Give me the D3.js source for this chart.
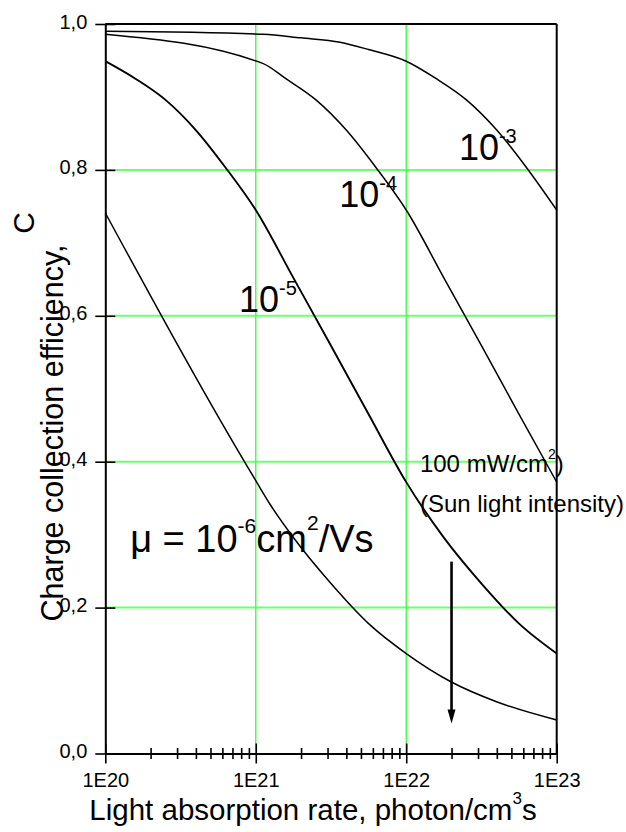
<!DOCTYPE html>
<html>
<head>
<meta charset="utf-8">
<title>Charge collection efficiency vs light absorption rate</title>
<style>
  body { margin: 0; background: #fff; }
  svg { font-family: "Liberation Sans", Arial, sans-serif; }
</style>
<script src="https://d3js.org/d3.v7.min.js"></script>
</head>
<body>
<svg id="chart" width="626" height="832"></svg>
<script>
// x values are exponents: rate = 10^exp photon/cm3 s
var mu3Exp = [20, 21.05, 21.3, 21.56, 21.75, 22.0, 22.2, 22.4, 22.6, 22.8, 23];
var mu3Eff = [0.990, 0.986, 0.981, 0.975, 0.965, 0.949, 0.925, 0.896, 0.855, 0.803, 0.745];

var mu4Exp = [20, 21.046, 21.2, 21.4, 21.6, 21.8, 22.0, 22.25, 22.5, 22.75, 23];
var mu4Eff = [0.986, 0.946, 0.925, 0.896, 0.855, 0.803, 0.745, 0.652, 0.559, 0.465, 0.372];

var mu5Exp = [20, 20.2, 20.4, 20.6, 20.8, 21.0, 21.25, 21.5, 21.75, 22.0, 22.25, 22.5, 22.75, 23];
var mu5Eff = [0.949, 0.925, 0.896, 0.855, 0.803, 0.745, 0.652, 0.559, 0.465, 0.372, 0.296, 0.233, 0.178, 0.137];

var mu6Exp = [20, 21.0, 21.1, 21.25, 21.5, 21.75, 22.0, 22.3, 22.6, 23];
var mu6Eff = [0.741, 0.374, 0.340, 0.296, 0.233, 0.178, 0.137, 0.098, 0.071, 0.046];

var xMajor = [1e20, 1e21, 1e22, 1e23];
var xTickLabels = ['1E20', '1E21', '1E22', '1E23'];
var yTicks = [0, 0.2, 0.4, 0.6, 0.8, 1.0];
var yTickLabels = ['0,0', '0,2', '0,4', '0,6', '0,8', '1,0'];

var svg = d3.select('#chart');
var x = d3.scaleLog().domain([1e20, 1e23]).range([105.3, 556.7]);
var y = d3.scaleLinear().domain([0, 1]).range([753.5, 24]);

// minor ticks 2..9 in each decade
var xMinor = [];
for (var e = 20; e < 23; e++) {
  for (var k = 2; k <= 9; k++) xMinor.push(k * Math.pow(10, e));
}

// green grid
svg.append('g')
  .selectAll('line')
  .data(yTicks.slice(1, 5))
  .join('line')
  .attr('x1', x(1e20)).attr('x2', x(1e23))
  .attr('y1', d => y(d)).attr('y2', d => y(d))
  .attr('stroke', '#70ff70').attr('stroke-width', 2);

svg.append('g')
  .selectAll('line')
  .data(xMajor.slice(1, 3))
  .join('line')
  .attr('x1', d => x(d)).attr('x2', d => x(d))
  .attr('y1', y(1)).attr('y2', y(0))
  .attr('stroke', '#40ff40').attr('stroke-width', 1.4);

// curves
var line = d3.line()
  .x(d => x(Math.pow(10, d[0])))
  .y(d => y(d[1]))
  .curve(d3.curveMonotoneX);

var series = [
  [mu3Exp, mu3Eff],
  [mu4Exp, mu4Eff],
  [mu5Exp, mu5Eff],
  [mu6Exp, mu6Eff]
];

svg.append('g')
  .selectAll('path')
  .data(series)
  .join('path')
  .attr('d', s => line(d3.zip(s[0], s[1])))
  .attr('fill', 'none')
  .attr('stroke', '#000')
  .attr('stroke-width', (s, i) => i == 2 ? 1.9 : 1.5);

// axes
var xAxis = svg.append('g')
  .attr('transform', `translate(0,${y(0)})`)
  .call(d3.axisBottom(x)
    .tickValues(xMajor.concat(xMinor))
    .tickSizeOuter(0)
    .tickFormat(d => {
      var i = xMajor.indexOf(d);
      return i >= 0 ? xTickLabels[i] : '';
    }));
xAxis.select('.domain').attr('stroke-width', 2);
xAxis.selectAll('.tick line')
  .attr('y1', d => xMajor.indexOf(d) >= 0 ? -10 : -5.5)
  .attr('y2', d => xMajor.indexOf(d) >= 0 ? 10 : 5.5)
  .attr('stroke-width', 1.6);
xAxis.selectAll('.tick text')
  .attr('y', 33).attr('dy', 0)
  .attr('font-size', 20).attr('font-family', null).attr('fill', '#000');

var yAxis = svg.append('g')
  .attr('transform', `translate(${x(1e20)},0)`)
  .call(d3.axisLeft(y)
    .tickValues(yTicks)
    .tickSizeOuter(0)
    .tickFormat((d, i) => yTickLabels[i]));
yAxis.select('.domain').attr('stroke-width', 2);
yAxis.selectAll('.tick line')
  .attr('x1', -10).attr('x2', 10)
  .attr('stroke-width', 1.6);
yAxis.selectAll('.tick text')
  .attr('x', -18).attr('dy', '0.2em')
  .attr('font-size', 20).attr('font-family', null).attr('fill', '#000');

// top and right frame
svg.append('line')
  .attr('x1', x(1e20)).attr('x2', x(1e23))
  .attr('y1', y(1)).attr('y2', y(1))
  .attr('stroke', '#000').attr('stroke-width', 2);
svg.append('line')
  .attr('x1', x(1e23)).attr('x2', x(1e23))
  .attr('y1', y(1)).attr('y2', y(0))
  .attr('stroke', '#000').attr('stroke-width', 2);

// curve labels
function powerLabel(px, py, base, sup, size, supSize, raise) {
  var t = svg.append('text')
    .attr('x', x(px)).attr('y', y(py))
    .attr('font-size', size);
  t.append('tspan').text(base);
  t.append('tspan').attr('font-size', supSize).attr('dy', -raise).text(sup);
  return t;
}
powerLabel(Math.pow(10, 22.35), 0.8136, '10', '-3', 36, 20, 17);
powerLabel(Math.pow(10, 21.555), 0.7496, '10', '-4', 36, 20, 17);
powerLabel(Math.pow(10, 20.889), 0.6056, '10', '-5', 36, 20, 17);

var muText = svg.append('text')
  .attr('x', x(Math.pow(10, 20.165))).attr('y', y(0.2766))
  .attr('font-size', 38);
muText.append('tspan').text('\u03bc = 10');
muText.append('tspan').attr('font-size', 21).attr('dy', -19).text('-6');
muText.append('tspan').attr('dy', 19).text('cm');
muText.append('tspan').attr('font-size', 21).attr('dy', -22).text('2');
muText.append('tspan').attr('dy', 22).text('/Vs');

// sun light annotation
var sun = svg.append('text')
  .attr('x', x(Math.pow(10, 22.091))).attr('y', y(0.386))
  .attr('font-size', 24);
sun.append('tspan').text('100 mW/cm');
sun.append('tspan').attr('font-size', 14).attr('dy', -13).text('2');
sun.append('tspan').attr('dy', 13).text(')');

svg.append('text')
  .attr('x', x(Math.pow(10, 22.091))).attr('y', y(0.3315))
  .attr('font-size', 24)
  .text('(Sun light intensity)');

// arrow at 2E22
var arrowAt = 2e22, arrowFrom = 0.263, arrowTo = 0.041;
svg.append('line')
  .attr('x1', x(arrowAt)).attr('x2', x(arrowAt))
  .attr('y1', y(arrowFrom)).attr('y2', y(arrowTo) - 8)
  .attr('stroke', '#000').attr('stroke-width', 2.6);
svg.append('path')
  .attr('d', `M${x(arrowAt) - 4},${y(arrowTo) - 14} L${x(arrowAt) + 4},${y(arrowTo) - 14} L${x(arrowAt)},${y(arrowTo)} Z`)
  .attr('fill', '#000');

// axis titles
var xt = svg.append('text')
  .attr('x', 313).attr('y', 820)
  .attr('text-anchor', 'middle')
  .attr('font-size', 29.5);
xt.append('tspan').text('Light absorption rate, photon/cm');
xt.append('tspan').attr('font-size', 17).attr('dy', -16).text('3');
xt.append('tspan').attr('dy', 16).text('s');

svg.append('text')
  .attr('transform', 'translate(63,433) rotate(-90)')
  .attr('text-anchor', 'middle')
  .attr('font-size', 30.5)
  .text('Charge collection efficiency,');
svg.append('text')
  .attr('transform', 'translate(34,223) rotate(-90)')
  .attr('text-anchor', 'middle')
  .attr('font-size', 30)
  .text('C');
</script>
</body>
</html>
